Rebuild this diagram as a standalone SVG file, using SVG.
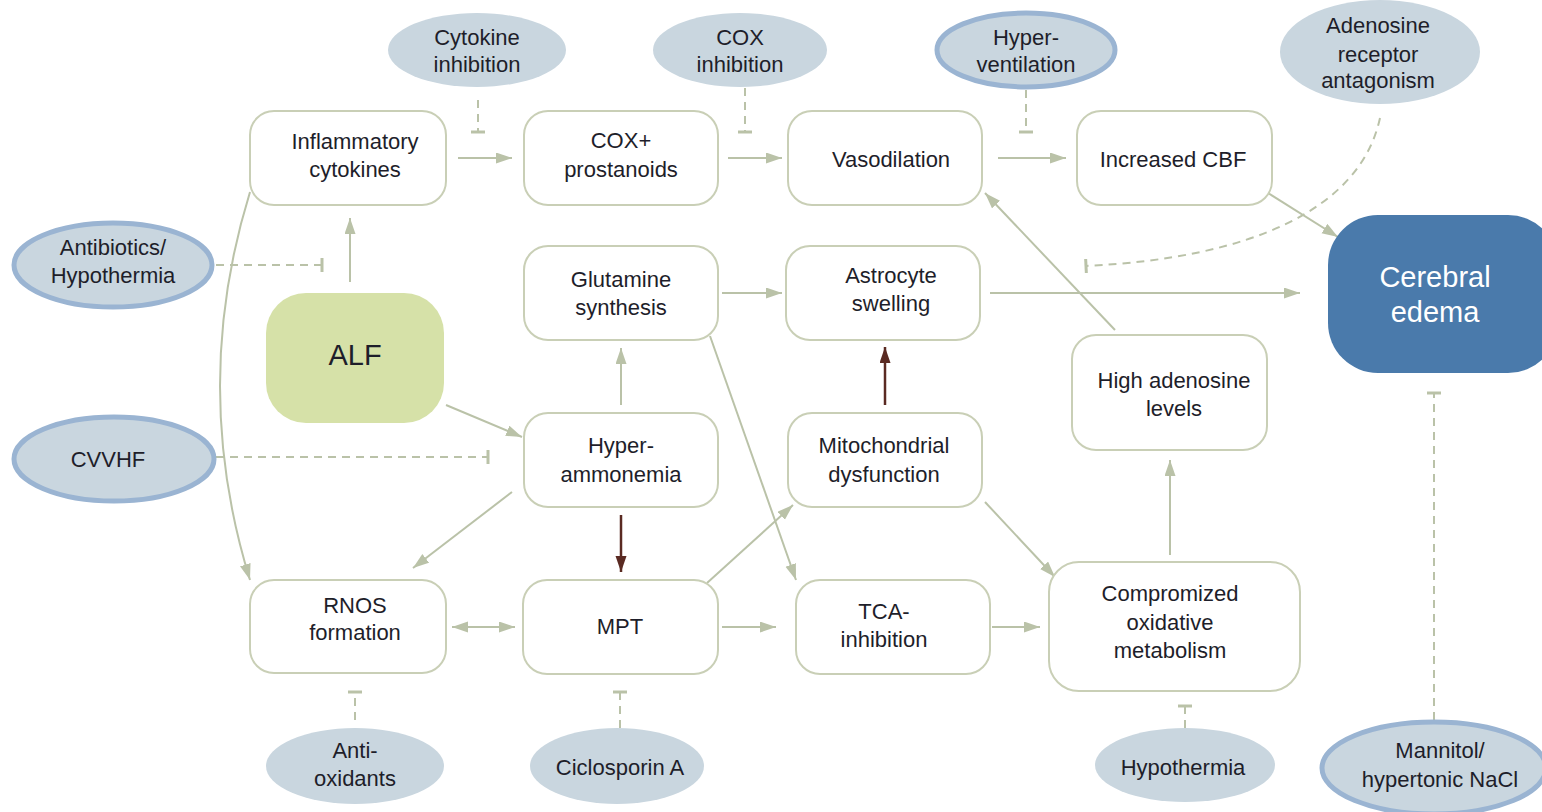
<svg xmlns="http://www.w3.org/2000/svg" width="1542" height="812" viewBox="0 0 1542 812">
<defs>
<style>
.box{fill:#fff;stroke:#c9cfb6;stroke-width:2}
.t{font-family:"Liberation Sans",Arial,sans-serif;font-size:22px;fill:#1e1e2a;text-anchor:middle}
.el{fill:#c9d6df}
.elb{fill:#c9d6df;stroke:#9ab4d2;stroke-width:5}
.c{fill:none;stroke:#bac2a8;stroke-width:2}
.d{fill:none;stroke:#bac2a8;stroke-width:2;stroke-dasharray:8 6}
.r{fill:none;stroke:#5a2a22;stroke-width:2.5}
</style>
<marker id="a" markerUnits="userSpaceOnUse" markerWidth="18" markerHeight="12" refX="16" refY="5.5" orient="auto-start-reverse"><path d="M0,0 L16,5.5 L0,11 z" fill="#bac2a8"/></marker>
<marker id="ar" markerUnits="userSpaceOnUse" markerWidth="18" markerHeight="12" refX="16" refY="5.5" orient="auto"><path d="M0,0 L16,5.5 L0,11 z" fill="#5a2a22"/></marker>
<marker id="tee" markerUnits="userSpaceOnUse" markerWidth="6" markerHeight="16" refX="3" refY="8" orient="auto"><path d="M3,1 L3,15" stroke="#bac2a8" stroke-width="3"/></marker>
</defs>
<rect width="1542" height="812" fill="#fff"/>

<g id="connectors">
<path class="c" d="M458 158 H512" marker-end="url(#a)"/>
<path class="c" d="M728 158 H782" marker-end="url(#a)"/>
<path class="c" d="M998 158 H1066" marker-end="url(#a)"/>
<path class="c" d="M1268 193 L1338 237" marker-end="url(#a)"/>
<path class="c" d="M722 293 H782" marker-end="url(#a)"/>
<path class="c" d="M990 293 H1300" marker-end="url(#a)"/>
<path class="c" d="M350 282 V218" marker-end="url(#a)"/>
<path class="c" d="M446 405 L522 437" marker-end="url(#a)"/>
<path class="c" d="M621 405 V348" marker-end="url(#a)"/>
<path class="r" d="M621 515 V572" marker-end="url(#ar)"/>
<path class="c" d="M512 492 L413 568" marker-end="url(#a)"/>
<path class="c" d="M250 192 Q190 386 250 580" marker-end="url(#a)"/>
<path class="c" d="M452 627 H515" marker-start="url(#a)" marker-end="url(#a)"/>
<path class="c" d="M722 627 H776" marker-end="url(#a)"/>
<path class="c" d="M707 583 L793 505" marker-end="url(#a)"/>
<path class="c" d="M710 336 L796 580" marker-end="url(#a)"/>
<path class="r" d="M885 405 V347" marker-end="url(#ar)"/>
<path class="c" d="M985 502 L1055 577" marker-end="url(#a)"/>
<path class="c" d="M992 627 H1040" marker-end="url(#a)"/>
<path class="c" d="M1170 555 V460" marker-end="url(#a)"/>
<path class="c" d="M1115 330 L985 193" marker-end="url(#a)"/>
<path class="d" d="M478 100 V132" marker-end="url(#tee)"/>
<path class="d" d="M745 88 V132" marker-end="url(#tee)"/>
<path class="d" d="M1026 90 V132" marker-end="url(#tee)"/>
<path class="d" d="M1380 118 C1360 210 1250 258 1086 266" marker-end="url(#tee)"/>
<path class="d" d="M216 265 H322" marker-end="url(#tee)"/>
<path class="d" d="M216 457 H488" marker-end="url(#tee)"/>
<path class="d" d="M355 720 V692" marker-end="url(#tee)"/>
<path class="d" d="M620 728 V692" marker-end="url(#tee)"/>
<path class="d" d="M1185 728 V706" marker-end="url(#tee)"/>
<path class="d" d="M1434 720 V393" marker-end="url(#tee)"/>
</g>

<g id="inflammatory"><rect class="box" x="250" y="111" width="196" height="94" rx="24"/><text class="t" x="355" y="149">Inflammatory</text><text class="t" x="355" y="177">cytokines</text></g>
<g id="cox"><rect class="box" x="524" y="111" width="194" height="94" rx="24"/><text class="t" x="621" y="148">COX+</text><text class="t" x="621" y="177">prostanoids</text></g>
<g id="vasodilation"><rect class="box" x="788" y="111" width="194" height="94" rx="24"/><text class="t" x="891" y="167">Vasodilation</text></g>
<g id="cbf"><rect class="box" x="1077" y="111" width="195" height="94" rx="24"/><text class="t" x="1173" y="167">Increased CBF</text></g>
<g id="glutamine"><rect class="box" x="524" y="246" width="194" height="94" rx="24"/><text class="t" x="621" y="287">Glutamine</text><text class="t" x="621" y="315">synthesis</text></g>
<g id="astrocyte"><rect class="box" x="786" y="246" width="194" height="94" rx="24"/><text class="t" x="891" y="283">Astrocyte</text><text class="t" x="891" y="311">swelling</text></g>
<g id="alf"><rect x="266" y="293" width="178" height="130" rx="40" fill="#d6e1a8"/><text class="t" x="355" y="365" style="font-size:29px">ALF</text></g>
<g id="hyperammonemia"><rect class="box" x="524" y="413" width="194" height="94" rx="24"/><text class="t" x="621" y="453">Hyper-</text><text class="t" x="621" y="482">ammonemia</text></g>
<g id="mito"><rect class="box" x="788" y="413" width="194" height="94" rx="24"/><text class="t" x="884" y="453">Mitochondrial</text><text class="t" x="884" y="482">dysfunction</text></g>
<g id="adenosine-levels"><rect class="box" x="1072" y="335" width="195" height="115" rx="24"/><text class="t" x="1174" y="388">High adenosine</text><text class="t" x="1174" y="416">levels</text></g>
<g id="edema"><rect x="1328" y="215" width="230" height="158" rx="50" fill="#4a7aab"/><text class="t" x="1435" y="287" style="font-size:29px;fill:#fff">Cerebral</text><text class="t" x="1435" y="322" style="font-size:29px;fill:#fff">edema</text></g>
<g id="rnos"><rect class="box" x="250" y="580" width="196" height="93" rx="24"/><text class="t" x="355" y="613">RNOS</text><text class="t" x="355" y="640">formation</text></g>
<g id="mpt"><rect class="box" x="523" y="580" width="195" height="94" rx="24"/><text class="t" x="620" y="634">MPT</text></g>
<g id="tca"><rect class="box" x="796" y="580" width="194" height="94" rx="24"/><text class="t" x="884" y="619">TCA-</text><text class="t" x="884" y="647">inhibition</text></g>
<g id="compromized"><rect class="box" x="1049" y="562" width="251" height="129" rx="30"/><text class="t" x="1170" y="601">Compromized</text><text class="t" x="1170" y="630">oxidative</text><text class="t" x="1170" y="658">metabolism</text></g>

<g id="cytokine-inhibition"><ellipse class="el" cx="477" cy="50" rx="89" ry="37"/><text class="t" x="477" y="45">Cytokine</text><text class="t" x="477" y="72">inhibition</text></g>
<g id="cox-inhibition"><ellipse class="el" cx="740" cy="50" rx="87" ry="37"/><text class="t" x="740" y="45">COX</text><text class="t" x="740" y="72">inhibition</text></g>
<g id="hyperventilation"><ellipse class="elb" cx="1026" cy="50" rx="89" ry="37"/><text class="t" x="1026" y="45">Hyper-</text><text class="t" x="1026" y="72">ventilation</text></g>
<g id="adenosine-antagonism"><ellipse class="el" cx="1380" cy="52" rx="100" ry="52"/><text class="t" x="1378" y="33">Adenosine</text><text class="t" x="1378" y="62">receptor</text><text class="t" x="1378" y="88">antagonism</text></g>
<g id="antibiotics"><ellipse class="elb" cx="113" cy="265" rx="99" ry="42"/><text class="t" x="113" y="255">Antibiotics/</text><text class="t" x="113" y="283">Hypothermia</text></g>
<g id="cvvhf"><ellipse class="elb" cx="114" cy="459" rx="100" ry="42"/><text class="t" x="108" y="467">CVVHF</text></g>
<g id="antioxidants"><ellipse class="el" cx="355" cy="766" rx="89" ry="38"/><text class="t" x="355" y="758">Anti-</text><text class="t" x="355" y="786">oxidants</text></g>
<g id="ciclosporin"><ellipse class="el" cx="617" cy="766" rx="87" ry="38"/><text class="t" x="620" y="775">Ciclosporin A</text></g>
<g id="hypothermia"><ellipse class="el" cx="1185" cy="765" rx="90" ry="37"/><text class="t" x="1183" y="775">Hypothermia</text></g>
<g id="mannitol"><ellipse class="elb" cx="1434" cy="768" rx="112" ry="46"/><text class="t" x="1440" y="758">Mannitol/</text><text class="t" x="1440" y="787">hypertonic NaCl</text></g>
</svg>
